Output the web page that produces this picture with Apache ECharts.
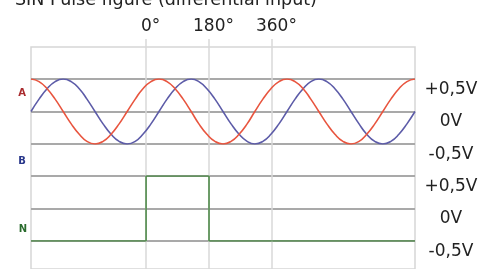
<!DOCTYPE html>
<html><head><meta charset="utf-8">
<script src="https://cdn.jsdelivr.net/npm/echarts@6/dist/echarts.min.js"></script>
<style>html,body{margin:0;padding:0;background:#fff}#c{width:481px;height:269px}</style>
</head><body><div id="c"></div>
<script>
const titleText = 'SIN Pulse figure (differential input)';
const phaseTicks = [0, 180, 360];
const phaseTickLabels = ['0°', '180°', '360°'];
const voltTicks = [-0.5, 0, 0.5];
const voltLabels = ['-0,5V', '0V', '+0,5V'];
const channelNames = ['A', 'B', 'N'];

const degrees = [-329,-306,-283,-260,-237,-214,-191,-169,-146,-123,-100,-77,-54,-31,-9,14,
  37,60,83,106,129,151,174,197,220,243,266,289,311,334,357,380,
  403,426,449,471,494,517,540,563,586,609,631,654,677,700,723,746,769];
const signalA = [0.5,0.46,0.35,0.19,0,-0.19,-0.35,-0.46,-0.5,-0.46,-0.35,-0.19,0,0.19,0.35,0.46,
  0.5,0.46,0.35,0.19,0,-0.19,-0.35,-0.46,-0.5,-0.46,-0.35,-0.19,0,0.19,0.35,0.46,
  0.5,0.46,0.35,0.19,0,-0.19,-0.35,-0.46,-0.5,-0.46,-0.35,-0.19,0,0.19,0.35,0.46,0.5];
const signalB = [0,0.19,0.35,0.46,0.5,0.46,0.35,0.19,0,-0.19,-0.35,-0.46,-0.5,-0.46,-0.35,-0.19,
  0,0.19,0.35,0.46,0.5,0.46,0.35,0.19,0,-0.19,-0.35,-0.46,-0.5,-0.46,-0.35,-0.19,
  0,0.19,0.35,0.46,0.5,0.46,0.35,0.19,0,-0.19,-0.35,-0.46,-0.5,-0.46,-0.35,-0.19,0];
const pulseDeg = [-329, 0, 0, 180, 180, 769];
const pulseN = [-0.5, -0.5, 0.5, 0.5, -0.5, -0.5];

const X_MIN = -329, X_MAX = 769;
const FONT = 'DejaVu Sans';
const zip = (xs, ys) => xs.map((x, i) => [x, ys[i]]);

const chart = echarts.init(document.getElementById('c'), null, {renderer: 'canvas'});
const voltAxis = (gridIndex) => ({
  type: 'value', gridIndex, position: 'right', min: -0.5, max: 0.5, interval: 0.5,
  axisLine: {show: false}, axisTick: {show: false},
  splitLine: {show: true, lineStyle: {color: '#a9a9a9', width: 2}},
  axisLabel: {
    margin: 36, align: 'center', verticalAlign: 'top', padding: [2, 0, 0, 0],
    fontFamily: FONT, fontSize: 17, color: '#222',
    formatter: v => voltLabels[voltTicks.indexOf(v)] || ''
  }
});
const hiddenX = (gridIndex) => ({type: 'value', gridIndex, min: X_MIN, max: X_MAX, show: false});

chart.setOption({
  animation: false,
  backgroundColor: '#fff',
  grid: [
    {left: 31, top: 39, width: 384, height: 250},
    {left: 31, top: 79, width: 384, height: 65},
    {left: 31, top: 176, width: 384, height: 65},
    {left: 31, top: 47, width: 384, height: 240, show: true, borderColor: '#d6d6d6', borderWidth: 1.5, backgroundColor: 'transparent'}
  ],
  xAxis: [
    {
      type: 'value', gridIndex: 0, position: 'top', min: X_MIN, max: X_MAX,
      axisLine: {show: false},
      axisTick: {show: false, customValues: phaseTicks},
      splitLine: {show: true, lineStyle: {color: '#d8d8d8', width: 1.5}},
      axisLabel: {
        customValues: phaseTicks, margin: 4, padding: [0, 0, 0, 9],
        fontFamily: FONT, fontSize: 17, color: '#222',
        formatter: v => phaseTickLabels[phaseTicks.indexOf(v)] || ''
      }
    },
    hiddenX(1), hiddenX(2), hiddenX(3)
  ],
  yAxis: [
    {type: 'value', gridIndex: 0, min: 0, max: 1, show: false},
    voltAxis(1), voltAxis(2),
    {type: 'value', gridIndex: 3, min: 0, max: 1, show: false}
  ],
  series: [
    {name: channelNames[0], type: 'line', xAxisIndex: 1, yAxisIndex: 1, data: zip(degrees, signalA), smooth: 0.5,
      showSymbol: false, lineStyle: {color: '#e8553f', width: 1.6}, z: 4},
    {name: channelNames[1], type: 'line', xAxisIndex: 1, yAxisIndex: 1, data: zip(degrees, signalB), smooth: 0.5,
      showSymbol: false, lineStyle: {color: '#5d5ca8', width: 1.6}, z: 3},
    {name: channelNames[2], type: 'line', xAxisIndex: 2, yAxisIndex: 2, data: zip(pulseDeg, pulseN),
      showSymbol: false, lineStyle: {color: '#4f8a4a', width: 1.6}, z: 4}
  ],
  graphic: [
    {type: 'text', left: 15, top: -9, style: {text: titleText, font: '17.5px "DejaVu Sans"', fill: '#222'}},
    {type: 'text', x: 22, y: 93, style: {text: channelNames[0], font: 'bold 10px "DejaVu Sans"', fill: '#a92b2e', align: 'center', verticalAlign: 'middle'}},
    {type: 'text', x: 22, y: 161, style: {text: channelNames[1], font: 'bold 10px "DejaVu Sans"', fill: '#28368a', align: 'center', verticalAlign: 'middle'}},
    {type: 'text', x: 23, y: 229, style: {text: channelNames[2], font: 'bold 10px "DejaVu Sans"', fill: '#2a6b2d', align: 'center', verticalAlign: 'middle'}}
  ]
});
</script></body></html>
